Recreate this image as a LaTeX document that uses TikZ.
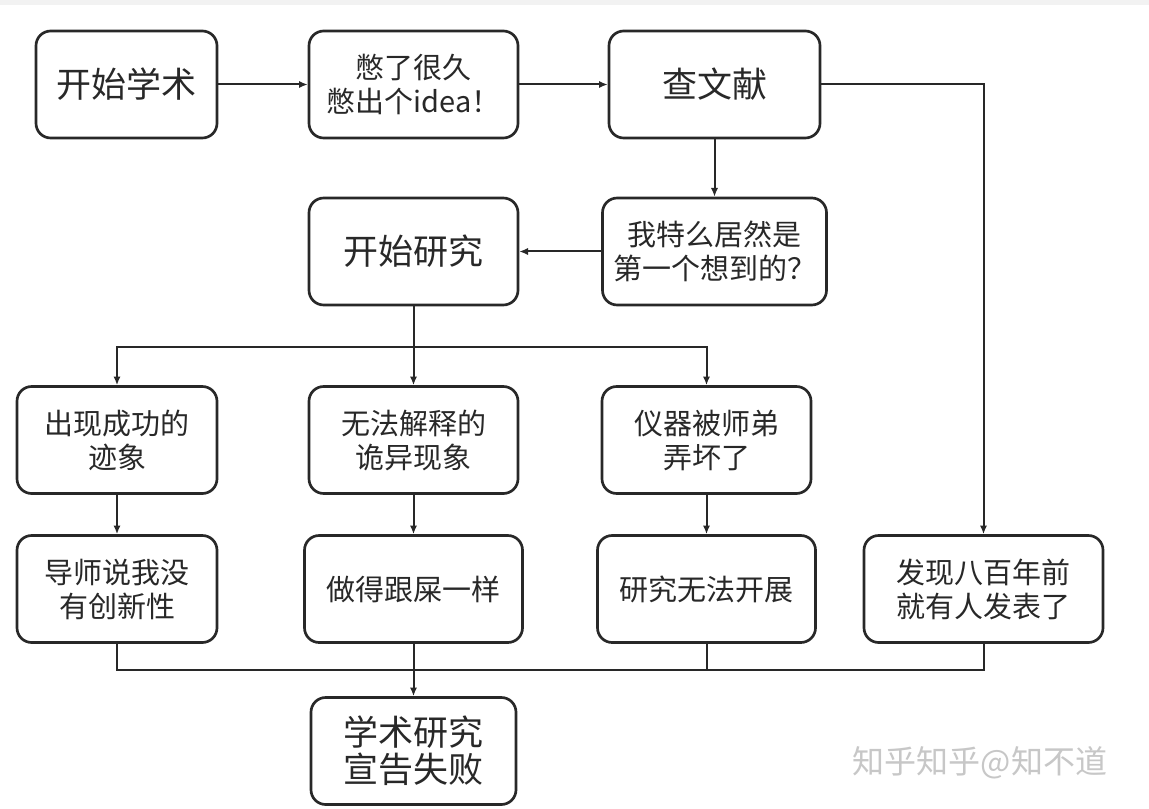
\documentclass[tikz,border=0pt]{standalone}
\usepackage{fontspec}
\setmainfont{Noto Sans CJK SC}
\usetikzlibrary{arrows.meta}
\definecolor{inkgray}{RGB}{40,40,40}
\tikzset{
  stepbox/.style={draw=inkgray, line width=2pt, rounded corners=11pt, align=center, inner sep=0pt, minimum height=80.25pt, text=inkgray, font=\fontsize{21.75}{25.5}\selectfont},
  bigtext/.style={font=\fontsize{26.25}{28}\selectfont},
  flow/.style={draw=inkgray, line width=1.5pt, -{Latex[length=6.5pt,width=5.5pt]}},
  link/.style={draw=inkgray, line width=1.5pt}
}
\begin{document}
\begin{tikzpicture}[x=0.75pt,y=0.75pt,yscale=-1]
% page
\fill[white] (0,0) rectangle (1149,809);
\fill[black!5] (0,0) rectangle (1149,5);

% first row
\node[stepbox,bigtext,minimum width=135.75pt] (start) at (126.5,84.5) {开始学术};
\node[stepbox,minimum width=156.75pt] (idea) at (413.5,84.5) {憋了很久\\憋出个idea！};
\node[stepbox,bigtext,minimum width=158.25pt] (lit) at (714.5,84.5) {查文献};
% second row
\node[stepbox,bigtext,minimum width=156.75pt] (research) at (413.5,251.5) {开始研究};
\node[stepbox,minimum width=168pt] (first) at (714.5,251.5) {我特么居然是\\第一个想到的？};
% third row
\node[stepbox,minimum width=150pt] (sign) at (117,440) {出现成功的\\迹象};
\node[stepbox,minimum width=156.75pt] (weird) at (413.5,440) {无法解释的\\诡异现象};
\node[stepbox,minimum width=156.75pt] (broken) at (706.5,440) {仪器被师弟\\弄坏了};
% fourth row
\node[stepbox,minimum width=150pt] (advisor) at (117,589) {导师说我没\\有创新性};
\node[stepbox,minimum width=163.5pt] (mess) at (413.5,589) {做得跟屎一样};
\node[stepbox,minimum width=163.5pt] (halt) at (706.5,589) {研究无法开展};
\node[stepbox,minimum width=179.25pt] (old) at (983.5,589) {发现八百年前\\就有人发表了};
% end
\node[stepbox,bigtext,minimum width=153.75pt] (fail) at (413.5,751) {学术研究\\宣告失败};

% watermark
\node[text=black!22, font=\fontsize{24}{24}\selectfont] (mark) at (980,763) {知乎知乎@知不道};

% connectors
\coordinate (split) at (413.5,347);
\coordinate (merge) at (413.5,670);
\draw[flow] (start.east) -- (idea.west);
\draw[flow] (idea.east) -- (lit.west);
\draw[flow] (lit.south) -- (first.north);
\draw[flow] (first.west) -- (research.east);
\draw[flow] (lit.east) -| (old.north);
\draw[link] (research.south) -- (split);
\draw[flow] (split) -| (sign.north);
\draw[flow] (split) -- (weird.north);
\draw[flow] (split) -| (broken.north);
\draw[flow] (sign.south) -- (advisor.north);
\draw[flow] (weird.south) -- (mess.north);
\draw[flow] (broken.south) -- (halt.north);
\draw[link] (advisor.south) |- (merge);
\draw[link] (old.south) |- (merge);
\draw[link] (halt.south) -- (halt.south |- merge);
\draw[link] (mess.south) -- (merge);
\draw[flow] (merge) -- (fail.north);
\end{tikzpicture}
\end{document}
